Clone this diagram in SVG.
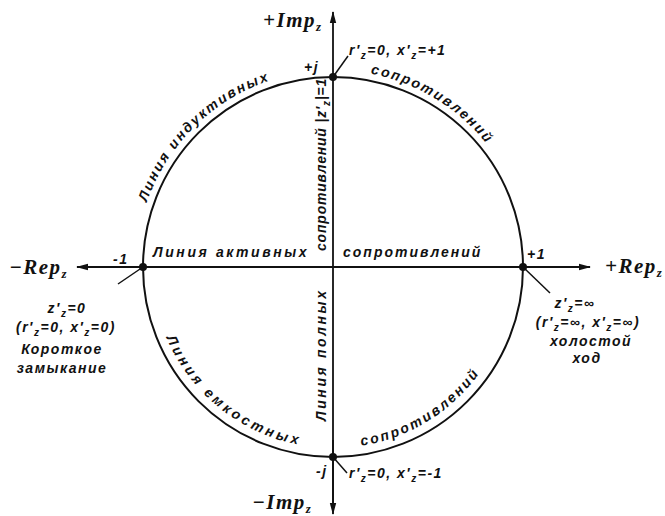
<svg xmlns="http://www.w3.org/2000/svg" width="665" height="516" viewBox="0 0 665 516">
<style>
.t{font-family:"Liberation Sans",Arial,sans-serif;font-style:italic;font-weight:bold;font-size:14px;fill:#111;letter-spacing:1.5px}
.ax{font-family:"Liberation Serif","Times New Roman",serif;font-style:italic;font-weight:bold;font-size:21px;fill:#111;letter-spacing:1.5px}
.s{font-size:10px}
.axs{font-size:13px}
.ln{stroke:#111;fill:none;stroke-width:1.8}
.ld{stroke:#111;fill:none;stroke-width:1.5}
.dot{fill:#111}
</style>
<defs>
<marker id="arr" markerWidth="12" markerHeight="8" refX="11" refY="4" orient="auto" markerUnits="userSpaceOnUse">
<path d="M0,0.8 L12,4 L0,7.2 Z" fill="#111"/>
</marker>
<path id="pUL" d="M145.6,206.1 A197,197 0 0 1 282,76.7"/>
<path id="pUR" d="M370.6,73.6 A197,197 0 0 1 494.4,154"/>
<path id="pLL" d="M166.4,337.7 A181,181 0 0 0 310.9,446.6"/>
<path id="pLR" d="M361.3,445.8 A181,181 0 0 0 484.8,365.6"/>
</defs>
<rect width="665" height="516" fill="#fff"/>

<g id="connectors">
<line class="ln" x1="333" y1="508" x2="333" y2="12" marker-end="url(#arr)"/>
<line class="ln" x1="333" y1="440" x2="333" y2="514" marker-end="url(#arr)"/>
<line class="ln" x1="522" y1="267" x2="77" y2="267" marker-end="url(#arr)"/>
<line class="ln" x1="145" y1="267" x2="590" y2="267" marker-end="url(#arr)"/>
<line class="ld" x1="333" y1="77" x2="348" y2="56"/>
<line class="ld" x1="143" y1="267" x2="118" y2="284"/>
<line class="ld" x1="523" y1="267" x2="550" y2="293"/>
<line class="ld" x1="333" y1="457" x2="347" y2="473"/>
</g>

<g id="circle">
<circle cx="333" cy="267" r="190" fill="none" stroke="#111" stroke-width="2"/>
</g>

<g id="point-plus-j">
<circle class="dot" cx="333" cy="77" r="4"/>
<text class="t" x="304" y="72">+j</text>
<text class="t" x="349" y="55">r′<tspan class="s" dy="4">z</tspan><tspan dy="-4">=0, x′</tspan><tspan class="s" dy="4">z</tspan><tspan dy="-4">=+1</tspan></text>
</g>

<g id="point-minus-j">
<circle class="dot" cx="333" cy="457" r="4"/>
<text class="t" x="316" y="476">-j</text>
<text class="t" x="349" y="478">r′<tspan class="s" dy="4">z</tspan><tspan dy="-4">=0, x′</tspan><tspan class="s" dy="4">z</tspan><tspan dy="-4">=-1</tspan></text>
</g>

<g id="point-minus-1">
<circle class="dot" cx="143" cy="267" r="4"/>
<text class="t" x="113" y="264">-1</text>
<text class="t" x="67" y="313" text-anchor="middle">z′<tspan class="s" dy="4">z</tspan><tspan dy="-4">=0</tspan></text>
<text class="t" x="66" y="332" text-anchor="middle">(r′<tspan class="s" dy="4">z</tspan><tspan dy="-4">=0, x′</tspan><tspan class="s" dy="4">z</tspan><tspan dy="-4">=0)</tspan></text>
<text class="t" x="62" y="354" text-anchor="middle">Короткое</text>
<text class="t" x="62" y="373" text-anchor="middle">замыкание</text>
</g>

<g id="point-plus-1">
<circle class="dot" cx="523" cy="267" r="4"/>
<text class="t" x="527" y="259">+1</text>
<text class="t" x="575" y="308" text-anchor="middle">z′<tspan class="s" dy="4">z</tspan><tspan dy="-4">=∞</tspan></text>
<text class="t" x="588" y="327" text-anchor="middle">(r′<tspan class="s" dy="4">z</tspan><tspan dy="-4">=∞, x′</tspan><tspan class="s" dy="4">z</tspan><tspan dy="-4">=∞)</tspan></text>
<text class="t" x="591" y="346" text-anchor="middle">холостой</text>
<text class="t" x="587" y="363" text-anchor="middle">ход</text>
</g>

<g id="axis-labels">
<text class="ax" x="263" y="27">+Imp<tspan class="axs" dy="4">z</tspan></text>
<text class="ax" x="252" y="509">−Imp<tspan class="axs" dy="4">z</tspan></text>
<text class="ax" x="9" y="274">−Rep<tspan class="axs" dy="4">z</tspan></text>
<text class="ax" x="605" y="273">+Rep<tspan class="axs" dy="4">z</tspan></text>
</g>

<g id="line-inductive">
<text class="t" style="letter-spacing:2px"><textPath href="#pUL" startOffset="4">Линия индуктивных</textPath></text>
<text class="t" style="letter-spacing:2px"><textPath href="#pUR">сопротивлений</textPath></text>
</g>

<g id="line-capacitive">
<text class="t" style="letter-spacing:3.3px"><textPath href="#pLL">Линия емкостных</textPath></text>
<text class="t" style="letter-spacing:2.3px"><textPath href="#pLR">сопротивлений</textPath></text>
</g>

<g id="line-active">
<text class="t" x="153" y="257" style="letter-spacing:2.6px">Линия активных</text>
<text class="t" x="343" y="257" style="letter-spacing:2px">сопротивлений</text>
</g>

<g id="line-full">
<text class="t" transform="translate(326,251) rotate(-90)" style="letter-spacing:0.8px">сопротивлений |z′<tspan class="s" dy="4">z</tspan><tspan dy="-4">|=1</tspan></text>
<text class="t" transform="translate(326,421) rotate(-90)" style="letter-spacing:2.6px">Линия полных</text>
</g>
</svg>
